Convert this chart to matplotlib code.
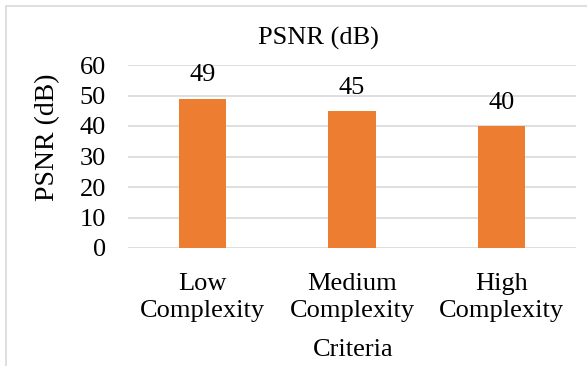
import matplotlib.pyplot as plt
from matplotlib.patches import Rectangle

categories = ["Low\nComplexity", "Medium\nComplexity", "High\nComplexity"]
psnr_values = [49, 45, 40]
y_ticks = [0, 10, 20, 30, 40, 50, 60]

plt.rcParams['font.family'] = ['Liberation Serif', 'DejaVu Serif']

W, H = 587, 366
FS = 19
fig = plt.figure(figsize=(W / 100, H / 100), dpi=100)

# light frame around the chart area
fig.patches.append(Rectangle((6 / W, -0.1), 1.2, 1 - 6 / H + 0.1, transform=fig.transFigure,
                             fill=False, edgecolor='#D9D9D9', linewidth=1.2))

ax = fig.add_axes([128 / W, 1 - 248 / H, (576 - 128) / W, (248 - 65) / H])
x = range(len(categories))
bars = ax.bar(x, psnr_values, width=0.315, color='#ED7D31', zorder=3)

for b, v in zip(bars, psnr_values):
    ax.text(b.get_x() + b.get_width() / 2, v + 4, str(v), ha='center', va='bottom',
            fontsize=FS, color='#000000')

ax.set_xlim(-0.5, len(categories) - 0.5)
ax.set_ylim(0, 60)
ax.set_yticks(y_ticks)
ax.set_xticks(list(x))
ax.set_xticklabels(categories, fontsize=FS, linespacing=1.3)
ax.tick_params(axis='y', length=0, pad=16, labelsize=FS)
ax.tick_params(axis='x', length=0, pad=18)
ax.grid(axis='y', color='#D9D9D9', linewidth=1.2, zorder=0)
for s in ax.spines.values():
    s.set_visible(False)

fig.text(48 / W, 1 - 137 / H, "PSNR (dB)", rotation=90, ha='center', va='center', fontsize=20)
fig.text(353 / W, 1 - 350 / H, "Criteria", ha='center', va='center', fontsize=FS)
fig.text(318 / W, 1 - 38 / H, "PSNR (dB)", ha='center', va='center', fontsize=FS)

fig.savefig('out.png', dpi=100)
